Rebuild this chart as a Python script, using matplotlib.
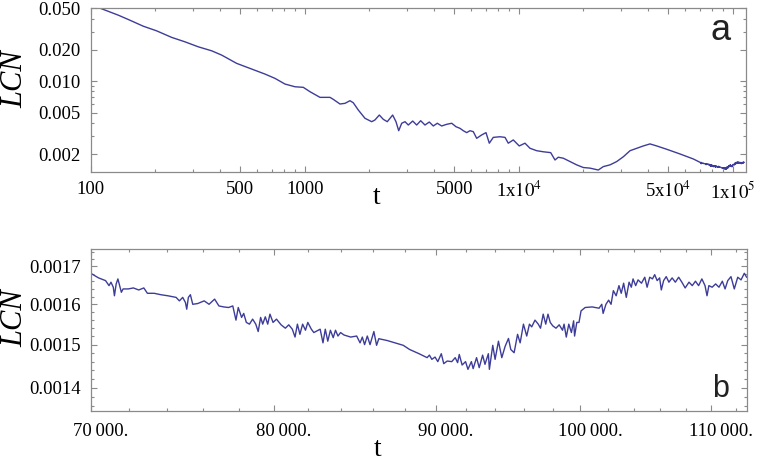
import numpy as np
import matplotlib.pyplot as plt
from matplotlib.ticker import FixedLocator, FixedFormatter, NullFormatter
from matplotlib.transforms import ScaledTranslation

plt.rcParams['font.family'] = ['Liberation Serif', 'DejaVu Serif']
plt.rcParams['mathtext.fontset'] = 'stix'

# panel a, early part of the run (t, LCN)
t_early = [100, 134.7, 149.9, 176.1, 203.4, 239, 275.9, 318.3, 367.6, 409.4,
           481, 565.4, 652.5, 726.3, 809, 901, 985, 1059, 1179, 1313,
           1360, 1462, 1543, 1628, 1687, 1780, 1913, 2057, 2130, 2232,
           2330, 2432, 2577, 2671, 2750, 2840, 2943, 3049, 3197, 3337,
           3484, 3648, 3821, 3990, 4165, 4367, 4609, 4865, 5093, 5318,
           5510, 5715, 5920, 6135, 6363, 6715, 7035, 7289, 7608, 8176,
           8630, 8940, 9435, 10060, 10700, 11290, 12140, 13030, 14110, 14780,
           15310, 16160, 17370, 18660, 20040, 21540, 23550, 24850, 26710, 28710,
           30830, 33130, 35600, 38220, 41070, 44140, 49160, 56720, 65450]
lcn_early = [0.0545, 0.0431, 0.0392, 0.0338, 0.0305, 0.0264, 0.02393, 0.02144, 0.01963, 0.01785,
             0.01487, 0.01311, 0.01174, 0.01068, 0.00942, 0.00887, 0.00876, 0.00795, 0.00702, 0.00702,
             0.00672, 0.00606, 0.00615, 0.00652, 0.00623, 0.00531, 0.00442, 0.0041, 0.00426, 0.00475,
             0.00432, 0.0041, 0.00475, 0.0041, 0.00336, 0.00396, 0.0041, 0.00381, 0.00416, 0.00381,
             0.00419, 0.00381, 0.00407, 0.00373, 0.00396, 0.00373, 0.00387, 0.00396, 0.00367, 0.00354,
             0.00336, 0.00322, 0.00336, 0.00329, 0.00284, 0.00306, 0.00322, 0.00255, 0.0029, 0.00294,
             0.0029, 0.00255, 0.00274, 0.0024, 0.00255, 0.00228, 0.00216, 0.00211, 0.00207, 0.00176,
             0.00187, 0.00183, 0.0017, 0.00158, 0.00149, 0.00147, 0.00141, 0.00152, 0.00158, 0.0017,
             0.00189, 0.00216, 0.00228, 0.0024, 0.00251, 0.0024, 0.00223, 0.00201, 0.0018]

# panel b, late part: t in thousands, LCN in units of 1e-4
t_late_k = [70.01, 70.41, 70.77, 70.95, 71.05, 71.17, 71.23, 71.32, 71.41, 71.59,
            71.68, 71.95, 72.22, 72.5, 72.77, 72.96, 73.32, 73.68, 74.05, 74.5,
            74.68, 74.86, 75.01, 75.08, 75.17, 75.28, 75.41, 75.68, 76.04, 76.31,
            76.62, 76.86, 77.13, 77.4, 77.64, 77.82, 77.95, 78.14, 78.26, 78.41,
            78.59, 78.77, 78.95, 79.09, 79.23, 79.35, 79.5, 79.64, 79.77, 79.95,
            80.15, 80.42, 80.67, 80.87, 81.08, 81.24, 81.38, 81.53, 81.69, 81.86,
            82.0, 82.21, 82.36, 82.54, 82.74, 82.91, 83.05, 83.2, 83.36, 83.53,
            83.67, 83.82, 83.98, 84.19, 84.6, 84.97, 85.18, 85.32, 85.46, 85.63,
            85.8, 86.04, 86.21, 86.35, 86.87, 87.38, 87.9, 88.31, 88.92, 89.44,
            89.59, 89.75, 89.96, 90.14, 90.37, 90.53, 90.76, 91.06, 91.29, 91.45,
            91.56, 91.75, 91.98, 92.14, 92.37, 92.49, 92.72, 92.9, 93.13, 93.29,
            93.52, 93.59, 93.82, 93.98, 94.21, 94.44, 94.67, 94.9, 95.06, 95.29,
            95.53, 95.71, 95.94, 96.17, 96.36, 96.52, 96.75, 96.98, 97.14, 97.33,
            97.51, 97.67, 97.83, 98.01, 98.24, 98.47, 98.71, 98.82, 98.98, 99.16,
            99.35, 99.51, 99.58, 99.74, 99.9, 100.05, 100.35, 100.86, 101.37, 101.57,
            101.67, 101.88, 102.08, 102.26, 102.43, 102.64, 102.85, 103.02, 103.2, 103.4,
            103.61, 103.78, 103.91, 104.11, 104.29, 104.55, 104.8, 104.98, 105.18, 105.39,
            105.56, 105.75, 105.94, 106.07, 106.25, 106.45, 106.66, 106.91, 107.16, 107.42,
            107.67, 107.93, 108.23, 108.49, 108.74, 108.99, 109.25, 109.5, 109.66, 109.81,
            110.07, 110.35, 110.62, 110.89, 111.11, 111.33, 111.59, 111.86, 112.14, 112.41,
            112.68, 112.87]
lcn_late_e4 = [16.814, 16.690, 16.618, 16.485, 16.576, 16.443, 16.22, 16.53, 16.663, 16.31,
               16.398, 16.398, 16.424, 16.371, 16.424, 16.284, 16.284, 16.247, 16.22, 16.178,
               16.088, 16.178, 16.045, 15.875, 16.178, 16.247, 16.0, 16.019, 16.088, 16.0,
               16.133, 15.958, 15.933, 15.918, 15.958, 15.6, 15.918, 15.668, 15.768, 15.543,
               15.5, 15.625, 15.5, 15.318, 15.668, 15.5, 15.683, 15.5, 15.75, 15.543,
               15.625, 15.483, 15.4, 15.483, 15.375, 15.183, 15.5, 15.25, 15.5, 15.35,
               15.543, 15.375, 15.293, 15.333, 15.375, 15.043, 15.375, 15.083, 15.35, 15.168,
               15.35, 15.208, 15.293, 15.233, 15.183, 15.208, 15.043, 15.183, 15.0, 15.208,
               15.0, 15.318, 14.984, 15.143, 15.1, 15.043, 14.984, 14.884, 14.784, 14.691,
               14.751, 14.651, 14.705, 14.598, 14.784, 14.551, 14.612, 14.598, 14.691, 14.574,
               14.767, 14.519, 14.598, 14.419, 14.598, 14.435, 14.691, 14.458, 14.751, 14.535,
               14.784, 14.419, 14.984, 14.651, 15.083, 14.691, 14.96, 15.15, 14.884, 14.807,
               15.25, 15.043, 15.5, 15.208, 15.5, 15.433, 15.6, 15.5, 15.4, 15.75,
               15.5, 15.75, 15.543, 15.458, 15.4, 15.483, 15.35, 15.5, 15.183, 15.5,
               15.293, 15.583, 15.208, 15.543, 15.543, 15.833, 15.918, 15.933, 15.9, 16.0,
               15.768, 16.0, 16.106, 16.0, 16.353, 16.22, 16.485, 16.284, 16.549, 16.178,
               16.576, 16.443, 16.663, 16.485, 16.637, 16.549, 16.708, 16.443, 16.708, 16.663,
               16.777, 16.618, 16.69, 16.371, 16.618, 16.724, 16.576, 16.69, 16.576, 16.708,
               16.576, 16.424, 16.576, 16.485, 16.602, 16.485, 16.663, 16.485, 16.22, 16.485,
               16.443, 16.53, 16.443, 16.602, 16.398, 16.618, 16.724, 16.398, 16.708, 16.637,
               16.814, 16.708]

# tick values and labels
a_xticks = [100, 500, 1000, 5000, 1e4, 5e4, 1e5]
a_xlabels = ['100', '500', '1000', '5000', r'1x$10^{4}$', r'5x$10^{4}$', r'1x$10^{5}$']
a_yticks = [0.002, 0.005, 0.01, 0.02, 0.05]
a_ylabels = ['0.002', '0.005', '0.010', '0.020', '0.050']
b_xticks = [70000, 80000, 90000, 100000, 110000]
b_xlabels = ['70\u2009000.', '80\u2009000.', '90\u2009000.', '100\u2009000.', '110\u2009000.']
b_yticks = [0.0014, 0.0015, 0.0016, 0.0017]
b_ylabels = ['0.0014', '0.0015', '0.0016', '0.0017']

line_col = '#3d3d99'
frame_col = '#8a8a8a'

t_late = np.array(t_late_k) * 1000
lcn_late = np.array(lcn_late_e4) * 1e-4
t_all = np.concatenate([t_early, t_late])
lcn_all = np.concatenate([lcn_early, lcn_late])

fig = plt.figure(figsize=(7.6, 4.61), dpi=100)
ax1 = fig.add_axes([0.1193, 0.6262, 0.8623, 0.3558])
ax2 = fig.add_axes([0.1191, 0.1085, 0.8638, 0.3514])

def style(ax):
    for s in ax.spines.values():
        s.set_color(frame_col)
        s.set_linewidth(0.9)
    ax.tick_params(which='both', direction='in', top=True, right=True,
                   colors=frame_col, labelcolor='black', labelsize=13.5, width=0.8)
    ax.tick_params(which='major', length=4.5)
    ax.tick_params(which='minor', length=2.5)
    ax.tick_params(axis='y', pad=7.0)

# panel a
ax1.plot(t_all, lcn_all, color=line_col, lw=1.0)
ax1.set_xscale('log')
ax1.set_yscale('log')
ax1.set_xlim(100, 115400)
ax1.set_ylim(0.00134, 0.0502)
ax1.xaxis.set_major_locator(FixedLocator(a_xticks))
ax1.xaxis.set_major_formatter(FixedFormatter(a_xlabels))
ax1.xaxis.set_minor_locator(FixedLocator([k * 10**e for e in (2, 3, 4) for k in range(2, 10) if k != 5]))
ax1.xaxis.set_minor_formatter(NullFormatter())
ax1.yaxis.set_major_locator(FixedLocator(a_yticks))
ax1.yaxis.set_major_formatter(FixedFormatter(a_ylabels))
ax1.yaxis.set_minor_locator(FixedLocator([0.003, 0.004, 0.006, 0.007, 0.008, 0.009, 0.03, 0.04]))
ax1.yaxis.set_minor_formatter(NullFormatter())
style(ax1)
ax1.tick_params(axis='x', pad=6.0)
ax1.set_xlabel('t', fontsize=20, va='center')
ax1.xaxis.set_label_coords(0.437, -0.151)
ax1.set_ylabel('LCN', fontsize=22, style='italic', va='center')
ax1.yaxis.set_label_coords(-0.1155, 0.569)
ax1.text(0.961, 0.807, 'a', transform=ax1.transAxes, family=['Liberation Sans'],
         fontsize=26, ha='center', va='baseline', color='#222222')

# panel b
ax2.plot(t_late, lcn_late, color=line_col, lw=1.0)
ax2.set_xscale('log')
ax2.set_yscale('log')
ax2.set_xlim(70000, 112900)
ax2.set_ylim(0.001349, 0.001748)
ax2.xaxis.set_major_locator(FixedLocator(b_xticks))
ax2.xaxis.set_major_formatter(FixedFormatter(b_xlabels))
ax2.xaxis.set_minor_locator(FixedLocator([k * 1000 for k in range(72, 113, 2) if k % 10]))
ax2.xaxis.set_minor_formatter(NullFormatter())
ax2.yaxis.set_major_locator(FixedLocator(b_yticks))
ax2.yaxis.set_major_formatter(FixedFormatter(b_ylabels))
ax2.yaxis.set_minor_locator(FixedLocator([k * 1e-5 for k in range(136, 176, 2) if k % 10]))
ax2.yaxis.set_minor_formatter(NullFormatter())
style(ax2)
ax2.tick_params(axis='x', pad=8.3)
for lab in ax2.get_xticklabels():
    lab.set_transform(lab.get_transform() + ScaledTranslation(0.1, 0, fig.dpi_scale_trans))
ax2.set_xlabel('t', fontsize=20, va='center')
ax2.xaxis.set_label_coords(0.437, -0.238)
ax2.set_ylabel('LCN', fontsize=22, style='italic', va='center')
ax2.yaxis.set_label_coords(-0.115, 0.574)
ax2.text(0.960, 0.088, 'b', transform=ax2.transAxes, family=['Liberation Sans'],
         fontsize=22, ha='center', va='baseline', color='#222222')

fig.savefig('out.png', dpi=100)
